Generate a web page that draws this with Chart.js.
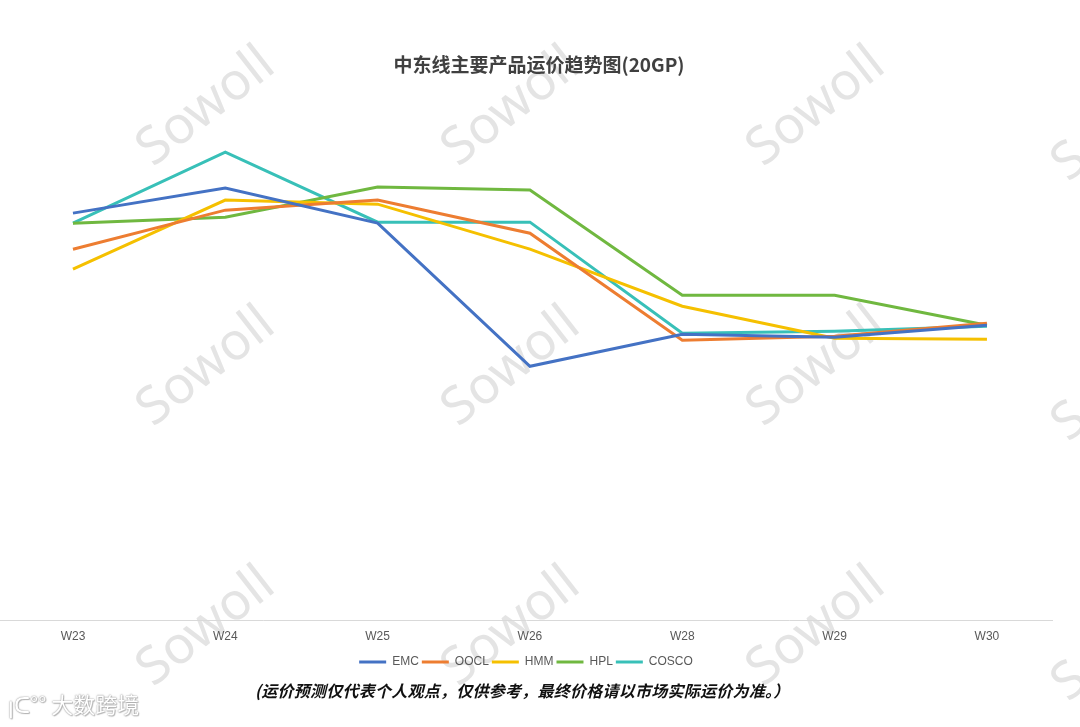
<!DOCTYPE html>
<html>
<head>
<meta charset="utf-8">
<script src="https://cdn.jsdelivr.net/npm/chart.js@4.4.1/dist/chart.umd.min.js"></script>
<style>
  html, body { margin: 0; padding: 0; background: #fff; }
  #wrap { position: relative; width: 1080px; height: 727px; overflow: hidden; background: #fff; }
  .wm { position: absolute; font-family: "Noto Sans", "Open Sans", sans-serif; font-size: 52px; color: #e4e4e4;
        transform: translate(-50%, -50%) rotate(-38deg); white-space: nowrap; z-index: 0; line-height: 1; }
  #cv { position: absolute; left: 0; top: 0; z-index: 1; }
  #title { position: absolute; left: 539px; top: 63px; transform: translate(-50%, -50%);
           font-family: "Noto Sans CJK SC", sans-serif; font-weight: bold; font-size: 19px; color: #404040;
           white-space: nowrap; z-index: 2; line-height: 1; }
  #note { position: absolute; left: 255px; top: 678px; font-family: "Noto Sans CJK SC", sans-serif; font-weight: bold;
          font-style: italic; font-size: 16px; letter-spacing: 0.25px; color: #111; white-space: nowrap; z-index: 2; }
  #logo { position: absolute; left: 8px; top: 690px; font-family: "Noto Sans CJK SC", sans-serif; font-size: 22px;
          color: #fff; white-space: nowrap; z-index: 2; line-height: 1.2;
          text-shadow: 0 0 1px #999, 0 0 2px #aaa, 1px 1px 1px #bbb; }
</style>
</head>
<body>
<div id="wrap">
  <div class="wm" style="left:203px; top:103px;">Sowoll</div>
  <div class="wm" style="left:508px; top:103px;">Sowoll</div>
  <div class="wm" style="left:813px; top:103px;">Sowoll</div>
  <div class="wm" style="left:1118px; top:118px;">Sowoll</div>
  <div class="wm" style="left:203px; top:363px;">Sowoll</div>
  <div class="wm" style="left:508px; top:363px;">Sowoll</div>
  <div class="wm" style="left:813px; top:363px;">Sowoll</div>
  <div class="wm" style="left:1118px; top:378px;">Sowoll</div>
  <div class="wm" style="left:203px; top:623px;">Sowoll</div>
  <div class="wm" style="left:508px; top:623px;">Sowoll</div>
  <div class="wm" style="left:813px; top:623px;">Sowoll</div>
  <div class="wm" style="left:1118px; top:638px;">Sowoll</div>
  <canvas id="cv" width="1080" height="727"></canvas>
  <div id="title">中东线主要产品运价趋势图(20GP)</div>
  <div id="note">(运价预测仅代表个人观点，仅供参考，最终价格请以市场实际运价为准。）</div>
  <div id="logo">ꞁᑕ°° 大数跨境</div>
</div>
<script>
const weeks = ["W23", "W24", "W25", "W26", "W28", "W29", "W30"];
const EMC   = [407, 432, 397, 254, 286, 283, 295];
const OOCL  = [371, 410, 420, 387, 280, 284, 297];
const HMM   = [351, 420, 416, 371, 314, 282, 281];
const HPL   = [397, 403, 433, 430, 325, 325, 295];
const COSCO = [397, 468, 398, 398, 287, 289, 294];
const seriesNames = ["EMC", "OOCL", "HMM", "HPL", "COSCO"];
const seriesValues = [EMC, OOCL, HMM, HPL, COSCO];
const seriesColors = ["#4472C4", "#ED7D31", "#F5C000", "#70B840", "#38C0B8"];

const datasets = seriesNames.map((name, k) => ({
  label: name,
  data: seriesValues[k].map((v, i) => ({ x: i, y: v })),
  borderColor: seriesColors[k],
  backgroundColor: seriesColors[k],
  borderWidth: 3,
  pointRadius: 0,
  pointHoverRadius: 0,
  tension: 0,
  fill: false
}));

new Chart(document.getElementById("cv"), {
  type: "line",
  data: { datasets },
  options: {
    responsive: false,
    animation: false,
    devicePixelRatio: 1,
    layout: { padding: { left: 0, right: 28, top: 90, bottom: 49 } },
    plugins: {
      title: { display: false },
      legend: {
        display: true,
        position: "bottom",
        labels: {
          boxWidth: 27,
          boxHeight: 3,
          padding: 3,
          color: "#595959",
          font: { family: "'Liberation Sans', Arial, sans-serif", size: 12 },
          generateLabels: (chart) =>
            Chart.defaults.plugins.legend.labels.generateLabels(chart).map(l => ({ ...l, lineWidth: 0 }))
        }
      },
      tooltip: { enabled: false }
    },
    scales: {
      x: {
        type: "linear",
        min: -0.479,
        max: 6.427,
        afterBuildTicks: (scale) => { scale.ticks = weeks.map((_, i) => ({ value: i })); },
        grid: { display: false, drawTicks: false },
        border: { display: true, color: "#d9d9d9", width: 1 },
        ticks: {
          padding: 9,
          color: "#595959",
          font: { family: "'Liberation Sans', Arial, sans-serif", size: 12 },
          maxRotation: 0,
          autoSkip: false,
          callback: (v) => weeks[v] !== undefined && Number.isInteger(v) ? weeks[v] : ""
        }
      },
      y: {
        display: false,
        min: 0,
        max: 530
      }
    }
  }
});
</script>
</body>
</html>
